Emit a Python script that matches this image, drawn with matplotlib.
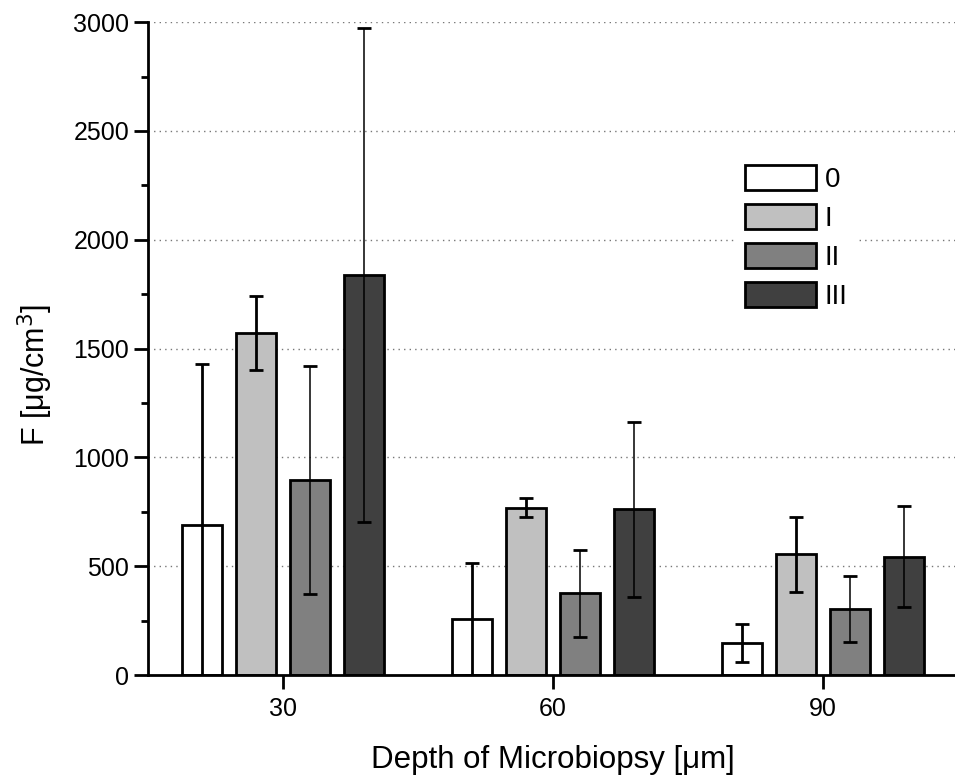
import numpy as np
import matplotlib
matplotlib.use("Agg")
import matplotlib.pyplot as plt
from matplotlib.ticker import MultipleLocator

plt.rcParams['font.family'] = ['Liberation Sans', 'DejaVu Sans']

depths = [30, 60, 90]
groups = ["0", "I", "II", "III"]
means = {
    "0":   [689, 257, 148],
    "I":   [1572, 769, 554],
    "II":  [896, 375, 303],
    "III": [1839, 761, 543],
}
errs = {
    "0":   [741, 258, 88],
    "I":   [170, 45, 172],
    "II":  [523, 199, 152],
    "III": [1134, 403, 232],
}
colors = ["#ffffff", "#c0c0c0", "#808080", "#404040"]
err_lw = [2.0, 2.0, 1.1, 1.1]

fig = plt.figure(figsize=(9.55, 7.81), dpi=100)
ax = fig.add_axes([0.155, 0.1357, 0.848, 0.836])

x = np.array(depths, dtype=float)
offsets = [-9, -3, 3, 9]
width = 4.5
for g, off, c, lw in zip(groups, offsets, colors, err_lw):
    ax.bar(x + off, means[g], width=width, color=c, edgecolor="black",
           linewidth=2, label=g, zorder=2)
    ax.errorbar(x + off, means[g], yerr=errs[g], fmt="none", ecolor="black",
                elinewidth=lw, capsize=5, capthick=2, zorder=3)

ax.set_xlim(15, 105)
ax.set_ylim(0, 3000)
ax.set_xticks(depths)
ax.yaxis.set_major_locator(MultipleLocator(500))
ax.yaxis.set_minor_locator(MultipleLocator(250))
ax.tick_params(axis="both", which="major", direction="out", length=10, width=2,
               labelsize=18)
ax.tick_params(axis="x", which="major", pad=6)
ax.tick_params(axis="y", which="minor", direction="out", length=5, width=2)
for y in range(500, 3001, 500):
    ax.axhline(y, color="#777777", linestyle=(0, (1, 3)), linewidth=1, zorder=1)

for s in ["top", "right"]:
    ax.spines[s].set_visible(False)
for s in ["left", "bottom"]:
    ax.spines[s].set_linewidth(2)

ax.set_xlabel("Depth of Microbiopsy [μm]", fontsize=22.5, labelpad=17)
ax.set_ylabel("F [μg/cm$^3$]", fontsize=22)
ax.yaxis.set_label_coords(-0.115, 0.46)

leg = ax.legend(loc="upper left", bbox_to_anchor=(0.71, 0.815), fontsize=20,
                frameon=True, fancybox=False, edgecolor="none",
                handlelength=2.55, handleheight=1.0, labelspacing=0.4,
                handletextpad=0.3, borderpad=0.3, framealpha=1)

fig.savefig("out.png", dpi=100)
